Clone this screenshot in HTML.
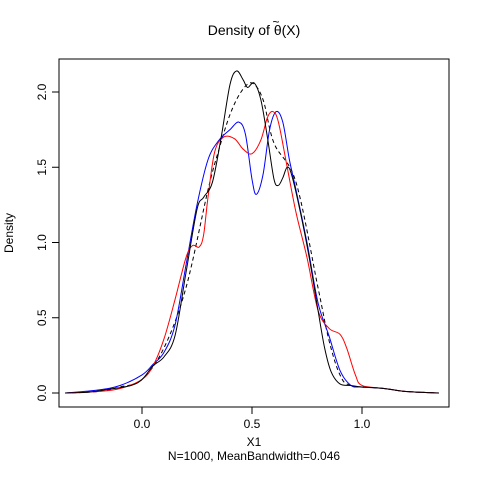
<!DOCTYPE html>
<html><head><meta charset="utf-8"><style>
html,body{margin:0;padding:0;background:#fff}
svg{display:block;font-family:"Liberation Sans",sans-serif}
</style></head><body>
<svg id="chart" width="480" height="480" viewBox="0 0 480 480">
<rect width="480" height="480" fill="#fff"/>
<text x="254" y="35" font-size="14" text-anchor="middle">Density of θ(X)</text>
<text x="276" y="26" font-size="12" text-anchor="middle">~</text>
<rect x="59" y="59" width="390" height="348" fill="none" stroke="#000" stroke-width="1"/>
<text x="254" y="446" font-size="12" text-anchor="middle">X1</text>
<text x="254" y="460" font-size="12" text-anchor="middle">N=1000, MeanBandwidth=0.046</text>
<text transform="translate(13,233) rotate(-90)" font-size="12" text-anchor="middle">Density</text>
<g id="axes"></g>
<g id="series"></g>
</svg>
<script>
const xTicks=[0,0.5,1];
const xTickLabels=["0.0","0.5","1.0"];
const yTicks=[0,0.5,1,1.5,2];
const yTickLabels=["0.0","0.5","1.0","1.5","2.0"];

const blackX=[-0.35,-0.25,-0.15,-0.05,0,0.05,0.1,0.15,0.2,0.25,0.28,0.32,0.36,0.4,0.43,0.46,0.48,0.51,0.54,0.57,0.6,0.62,0.64,0.66,0.68,0.72,0.76,0.8,0.83,0.86,0.9,0.95,1.0,1.1,1.2,1.35];
const blackY=[0,0.005,0.025,0.05,0.09,0.18,0.24,0.38,0.8,1.22,1.3,1.4,1.7,2.05,2.14,2.08,2.03,2.06,1.95,1.7,1.42,1.38,1.43,1.5,1.45,1.2,0.9,0.55,0.3,0.14,0.06,0.05,0.04,0.03,0.01,0];

const dashX=[-0.35,-0.2,-0.1,0,0.1,0.2,0.3,0.35,0.4,0.45,0.5,0.55,0.6,0.7,0.8,0.85,0.9,0.95,1.1,1.2,1.35];
const dashY=[0,0.01,0.04,0.09,0.3,0.7,1.35,1.62,1.85,2.0,2.06,1.95,1.66,1.4,0.7,0.35,0.12,0.05,0.03,0.01,0];

const blueX=[-0.35,-0.2,-0.1,0,0.05,0.1,0.15,0.2,0.25,0.3,0.35,0.4,0.44,0.47,0.5,0.52,0.55,0.58,0.61,0.64,0.67,0.7,0.75,0.8,0.85,0.9,0.95,1.0,1.1,1.2,1.35];
const blueY=[0,0.02,0.05,0.12,0.19,0.27,0.45,0.85,1.25,1.55,1.68,1.75,1.8,1.72,1.42,1.32,1.45,1.75,1.87,1.8,1.55,1.35,1.0,0.6,0.38,0.15,0.05,0.04,0.03,0.01,0];

const redX=[-0.35,-0.2,-0.1,0,0.05,0.1,0.15,0.2,0.23,0.26,0.28,0.3,0.33,0.37,0.42,0.46,0.5,0.54,0.57,0.595,0.62,0.66,0.7,0.75,0.8,0.85,0.9,0.93,0.97,1.0,1.1,1.2,1.35];
const redY=[0,0.01,0.03,0.09,0.18,0.36,0.62,0.9,0.98,0.97,1.05,1.3,1.6,1.7,1.69,1.62,1.59,1.68,1.83,1.87,1.8,1.5,1.2,0.9,0.55,0.43,0.39,0.3,0.12,0.05,0.03,0.01,0];

const NS="http://www.w3.org/2000/svg";
function sx(v){return 142+220*v;}
function sy(v){return 393-150.5*v;}
const axes=document.getElementById('axes');
function mk(tag,attrs,parent){const e=document.createElementNS(NS,tag);for(const k in attrs)e.setAttribute(k,attrs[k]);parent.appendChild(e);return e;}
xTicks.forEach((t,i)=>{
  const l=mk('line',{x1:sx(t),x2:sx(t),y1:407,y2:414,stroke:'#000'},axes);
  
  
  const tx=mk('text',{x:sx(t),y:428,'font-size':12,'text-anchor':'middle'},axes);
  tx.textContent=xTickLabels[i];
  
  
});
yTicks.forEach((t,i)=>{
  const l=mk('line',{x1:52,x2:59,y1:sy(t),y2:sy(t),stroke:'#000'},axes);
  
  
  const tx=mk('text',{transform:`translate(46,${sy(t)}) rotate(-90)`,'font-size':12,'text-anchor':'middle'},axes);
  tx.textContent=yTickLabels[i];
  
  
});
function pathFor(xs,ys){
  const p=xs.map((x,i)=>[sx(x),sy(ys[i])]);
  let d=`M${p[0][0]},${p[0][1]}`;
  for(let i=0;i<p.length-1;i++){
    const p0=p[Math.max(0,i-1)],p1=p[i],p2=p[i+1],p3=p[Math.min(p.length-1,i+2)];
    const c1=[p1[0]+(p2[0]-p0[0])/6,p1[1]+(p2[1]-p0[1])/6];
    const c2=[p2[0]-(p3[0]-p1[0])/6,p2[1]-(p3[1]-p1[1])/6];
    d+=`C${c1[0]},${c1[1]} ${c2[0]},${c2[1]} ${p2[0]},${p2[1]}`;
  }
  return d;
}
const series=document.getElementById('series');
const a=mk('path',{d:pathFor(dashX,dashY),fill:'none',stroke:'#000','stroke-dasharray':'4,3'},series);


const b=mk('path',{d:pathFor(blueX,blueY),fill:'none',stroke:'#0000ff'},series);


const r=mk('path',{d:pathFor(redX,redY),fill:'none',stroke:'#ff0000'},series);


const k=mk('path',{d:pathFor(blackX,blackY),fill:'none',stroke:'#000'},series);


</script>
</body></html>
